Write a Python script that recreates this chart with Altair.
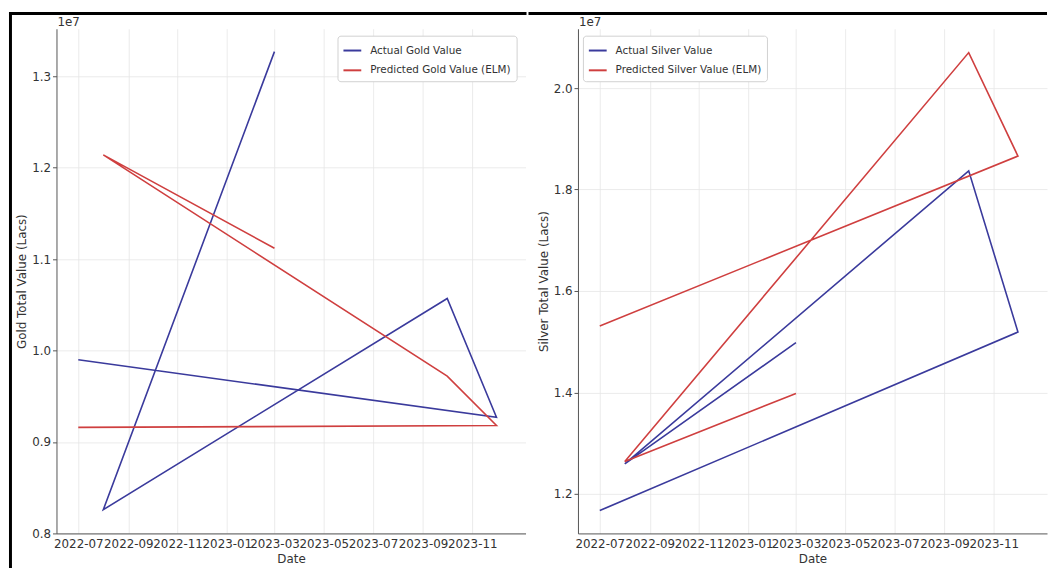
import altair as alt
import pandas as pd

# ---- data ----
DATES = ["2022-07-01", "2023-12-01", "2023-10-01", "2022-08-01", "2023-03-01"]
GOLD_ACTUAL = [0.990e7, 0.927e7, 1.057e7, 0.826e7, 1.327e7]
GOLD_PRED = [0.916e7, 0.918e7, 0.972e7, 1.214e7, 1.112e7]
SILVER_ACTUAL = [1.167e7, 1.519e7, 1.837e7, 1.259e7, 1.498e7]
SILVER_PRED = [1.531e7, 1.866e7, 2.070e7, 1.264e7, 1.398e7]

GOLD_SERIES = ["Actual Gold Value", "Predicted Gold Value (ELM)"]
SILVER_SERIES = ["Actual Silver Value", "Predicted Silver Value (ELM)"]
GOLD_TICKS = [0.8e7, 0.9e7, 1.0e7, 1.1e7, 1.2e7, 1.3e7]
SILVER_TICKS = [1.2e7, 1.4e7, 1.6e7, 1.8e7, 2.0e7]
GOLD_DOMAIN = [0.800e7, 1.352e7]
SILVER_DOMAIN = [1.122e7, 2.117e7]
X_TICKS = [(2022, 7), (2022, 9), (2022, 11), (2023, 1), (2023, 3),
           (2023, 5), (2023, 7), (2023, 9), (2023, 11)]
X_DOMAIN = [(2022, 6, 4), (2024, 1, 6)]
OFFSET_TEXT = ["1e7"]

BLUE = "#3a3a9c"
RED = "#cf3f3f"
W, H = 474, 510


def frame(actual, pred, names):
    rows = []
    for i, (d, a) in enumerate(zip(DATES, actual)):
        rows.append({"date": d, "value": a, "series": names[0], "idx": i})
    for i, (d, p) in enumerate(zip(DATES, pred)):
        rows.append({"date": d, "value": p, "series": names[1], "idx": i})
    return pd.DataFrame(rows)


x_vals = [alt.DateTime(year=y, month=m, date=1, utc=True) for y, m in X_TICKS]
x_dom = [alt.DateTime(year=y, month=m, date=d, utc=True) for y, m, d in X_DOMAIN]


def bar(x1, x2, y1, y2):
    # solid black border strip (screenshot frame of the reference)
    return alt.Chart(pd.DataFrame({"k": [0]})).mark_rect(
        color="black", strokeWidth=0).encode(
        x=alt.value(x1), x2=alt.value(x2), y=alt.value(y1), y2=alt.value(y2))


def panel(df, names, ticks, ydom, ytitle, lx):
    line = alt.Chart(df).mark_line(strokeWidth=1.6).encode(
        x=alt.X("date:T", title="Date",
                scale=alt.Scale(type="utc", domain=x_dom, nice=False),
                axis=alt.Axis(values=x_vals, format="%Y-%m", labelOverlap=False,
                              tickSize=0, labelPadding=5, titlePadding=4,
                              labelFlush=False)),
        y=alt.Y("value:Q", title=ytitle,
                scale=alt.Scale(domain=ydom, zero=False, nice=False),
                axis=alt.Axis(values=ticks, labelExpr="format(datum.value / 1e7, '.1f')",
                              tickSize=4, labelPadding=2, titlePadding=3,
                              labelFlush=False)),
        color=alt.Color("series:N",
                        scale=alt.Scale(domain=names, range=[BLUE, RED]),
                        legend=alt.Legend(title=None, orient="none",
                                          legendX=lx, legendY=7)),
        order=alt.Order("idx:Q"),
    )
    off = alt.Chart(pd.DataFrame({"t": OFFSET_TEXT})).mark_text(
        align="left", baseline="alphabetic", fontSize=12, color="#333"
    ).encode(text="t:N", x=alt.value(1), y=alt.value(-3))
    return [line, off]


gold = frame(GOLD_ACTUAL, GOLD_PRED, GOLD_SERIES)
silver = frame(SILVER_ACTUAL, SILVER_PRED, SILVER_SERIES)

left = alt.layer(
    *panel(gold, GOLD_SERIES, GOLD_TICKS, GOLD_DOMAIN, "Gold Total Value (Lacs)", 284),
    bar(-48, W + 1, -17, -14),
    bar(-48, -45, -17, H + 35),
).properties(width=W, height=H)

right = alt.layer(
    *panel(silver, SILVER_SERIES, SILVER_TICKS, SILVER_DOMAIN, "Silver Total Value (Lacs)", 5),
    bar(-50, W, -17, -14),
).properties(width=W, height=H)

chart = alt.hconcat(left, right, spacing=0).resolve_scale(
    color="independent").resolve_legend(color="independent").properties(
    padding={"left": 0, "top": 0, "right": 0, "bottom": 0}
).configure(font="DejaVu Sans", background="white").configure_view(
    stroke="transparent"
).configure_axis(
    labelFont="DejaVu Sans", labelFontSize=12, labelColor="#333",
    titleFont="DejaVu Sans", titleFontSize=12, titleColor="#333",
    titleFontWeight="normal",
    domainColor="#555", domainWidth=1, tickColor="#555",
    gridColor="#e6e6e6", gridWidth=0.8,
).configure_legend(
    labelFont="DejaVu Sans", labelFontSize=10.5, labelColor="#333",
    symbolType="stroke", symbolStrokeWidth=2, symbolSize=324,
    labelOffset=8, rowPadding=4, padding=5,
    fillColor="white", strokeColor="#d0d0d0", cornerRadius=3,
)

chart.save("out.html", embed_options={"renderer": "svg", "actions": False})
